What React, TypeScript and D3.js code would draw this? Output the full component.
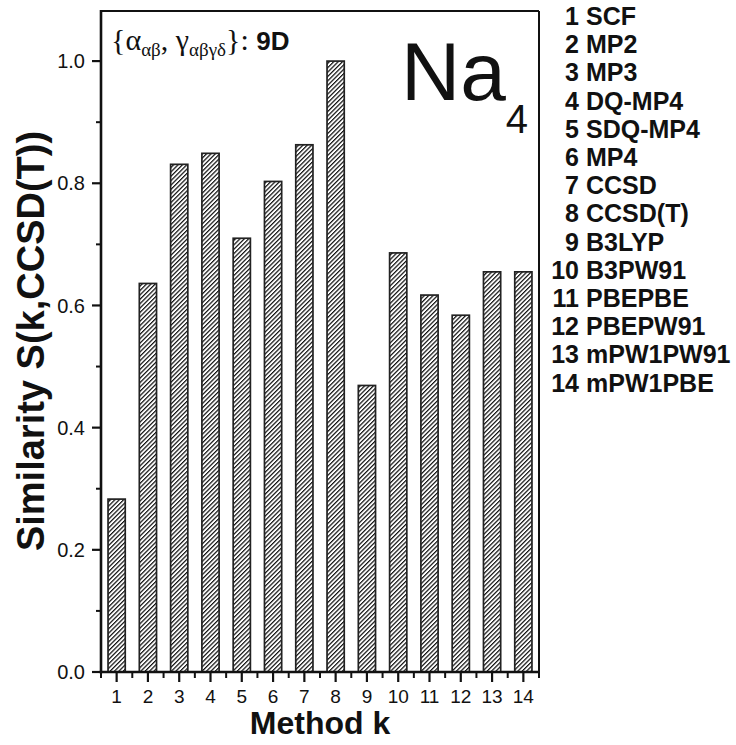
import React from "react";
import * as d3 from "d3";

// Method index (x) and similarity to CCSD(T) (y)
const methods = [1, 2, 3, 4, 5, 6, 7, 8, 9, 10, 11, 12, 13, 14];
const similarity = [0.283, 0.636, 0.831, 0.849, 0.71, 0.803, 0.863, 1.0, 0.469, 0.686, 0.617, 0.584, 0.655, 0.655];
const methodNames = [
  "SCF", "MP2", "MP3", "DQ-MP4", "SDQ-MP4", "MP4", "CCSD", "CCSD(T)",
  "B3LYP", "B3PW91", "PBEPBE", "PBEPW91", "mPW1PW91", "mPW1PBE",
];
const yTicks = [0, 0.2, 0.4, 0.6, 0.8, 1.0];
const yMinorTicks = [0.1, 0.3, 0.5, 0.7, 0.9];
const xMinorTicks = [0.5, 1.5, 2.5, 3.5, 4.5, 5.5, 6.5, 7.5, 8.5, 9.5, 10.5, 11.5, 12.5, 13.5, 14.5];

const W = 736;
const H = 745;
const left = 101;
const right = 539;
const top = 11;
const bottom = 672;

const SANS = "'Liberation Sans', Arial, Helvetica, sans-serif";
const SERIF = "'Liberation Serif', 'Times New Roman', serif";

export default function App() {
  const x = d3.scaleLinear().domain([0.5, 14.5]).range([left, right]);
  const y = d3.scaleLinear().domain([0, 1.082]).range([bottom, top]);
  const step = x(2) - x(1);
  const barW = step * 0.55;

  return (
    <svg
      width={W}
      height={H}
      viewBox={`0 0 ${W} ${H}`}
      style={{ position: "absolute", left: 0, top: 0, background: "#fff" }}
    >
      <defs>
        <pattern
          id="hatch"
          patternUnits="userSpaceOnUse"
          width={3.1}
          height={10}
          patternTransform="rotate(45)"
        >
          <rect width={3.1} height={10} fill="#fff" />
          <line x1={0.6} y1={0} x2={0.6} y2={10} stroke="#111" strokeWidth={1.25} />
        </pattern>
      </defs>

      {/* bars */}
      {methods.map((m, i) => (
        <rect
          key={m}
          x={x(m) - barW / 2}
          y={y(similarity[i])}
          width={barW}
          height={y(0) - y(similarity[i])}
          fill="url(#hatch)"
          stroke="#222"
          strokeWidth={1.7}
        />
      ))}

      {/* frame */}
      <line x1={left} y1={top} x2={right} y2={top} stroke="#111" strokeWidth={2} />
      <line x1={right} y1={top} x2={right} y2={bottom} stroke="#111" strokeWidth={2} />
      <line x1={left} y1={top - 1} x2={left} y2={bottom + 1.2} stroke="#111" strokeWidth={2.6} />
      <line x1={left - 1.3} y1={bottom} x2={right + 1} y2={bottom} stroke="#111" strokeWidth={2.6} />

      {/* y ticks */}
      {yTicks.map((t) => (
        <g key={t}>
          <line x1={left - 9} x2={left} y1={y(t)} y2={y(t)} stroke="#111" strokeWidth={2.2} />
          <text
            x={left - 16}
            y={y(t)}
            dy="0.36em"
            textAnchor="end"
            fontFamily={SANS}
            fontSize={20}
            fill="#111"
          >
            {t.toFixed(1)}
          </text>
        </g>
      ))}
      {yMinorTicks.map((t) => (
        <line key={t} x1={left - 5} x2={left} y1={y(t)} y2={y(t)} stroke="#111" strokeWidth={2} />
      ))}

      {/* x ticks */}
      {methods.map((m) => (
        <g key={m}>
          <line x1={x(m)} x2={x(m)} y1={bottom} y2={bottom + 10} stroke="#111" strokeWidth={2.2} />
          <text
            x={x(m)}
            y={bottom + 31}
            textAnchor="middle"
            fontFamily={SANS}
            fontSize={19}
            fill="#111"
          >
            {m}
          </text>
        </g>
      ))}
      {xMinorTicks.map((t) => (
        <line key={t} x1={x(t)} x2={x(t)} y1={bottom} y2={bottom + 6} stroke="#111" strokeWidth={2} />
      ))}

      {/* axis titles */}
      <text
        x={(left + right) / 2}
        y={734}
        textAnchor="middle"
        fontFamily={SANS}
        fontWeight="bold"
        fontSize={32}
        fill="#111"
      >
        Method k
      </text>
      <text
        transform={`translate(44, 341) rotate(-90)`}
        textAnchor="middle"
        fontFamily={SANS}
        fontWeight="bold"
        fontSize={38}
        fill="#111"
      >
        Similarity S(k,CCSD(T))
      </text>

      {/* property set annotation */}
      <text x={111} y={50} fontFamily={SERIF} fontSize={30} fill="#111">
        {"{α"}
        <tspan fontSize={19} dy={6}>αβ</tspan>
        <tspan dy={-6}>{", γ"}</tspan>
        <tspan fontSize={19} dy={6}>αβγδ</tspan>
        <tspan dy={-6}>{"}: "}</tspan>
        <tspan fontFamily={SANS} fontWeight="bold" fontSize={26}>9D</tspan>
      </text>

      {/* molecule label */}
      <text x={401} y={100} fontFamily={SANS} fontSize={82} fill="#111">
        Na
        <tspan fontSize={40} dy={33}>4</tspan>
      </text>

      {/* method legend */}
      {methodNames.map((name, i) => (
        <g key={name}>
          <text
            x={579}
            y={25 + i * 28.2}
            textAnchor="end"
            fontFamily={SANS}
            fontWeight="bold"
            fontSize={25}
            fill="#111"
          >
            {i + 1}
          </text>
          <text
            x={586}
            y={25 + i * 28.2}
            fontFamily={SANS}
            fontWeight="bold"
            fontSize={25}
            fill="#111"
          >
            {name}
          </text>
        </g>
      ))}
    </svg>
  );
}
